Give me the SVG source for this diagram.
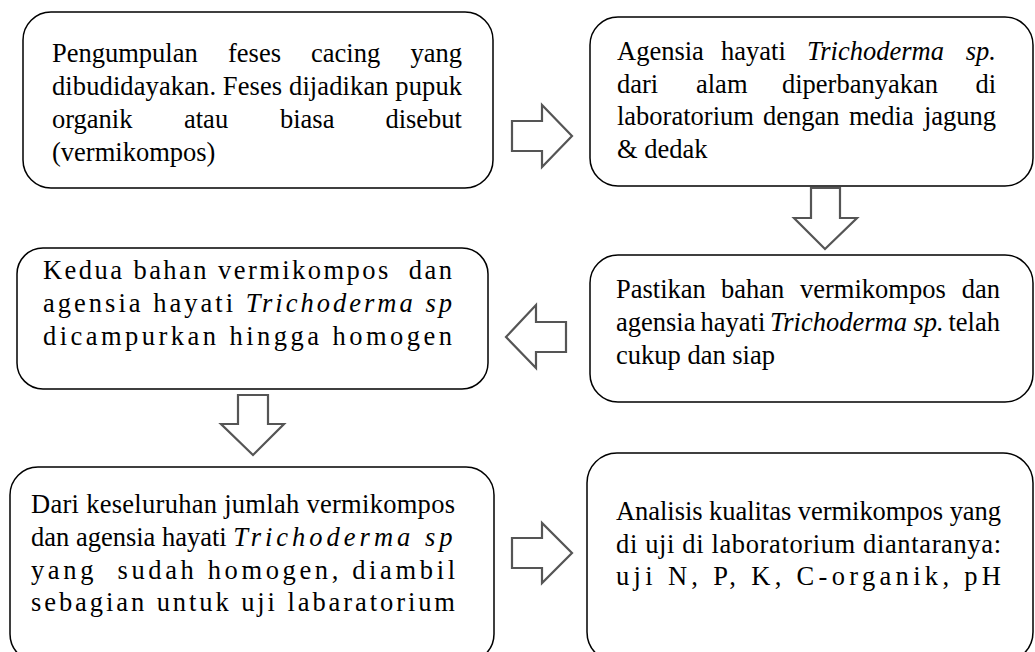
<svg xmlns="http://www.w3.org/2000/svg" width="1035" height="652" viewBox="0 0 1035 652">
<style>
.box{fill:#fff;stroke:#000;stroke-width:1.5}
.arr{fill:#fff;stroke:#555;stroke-width:2.2;stroke-linejoin:miter}
text{font-family:"Liberation Serif","Times New Roman",serif;font-size:26.5px;fill:#000}
.it{font-style:italic}
.pre{white-space:pre}
</style>
<rect width="1035" height="652" fill="#fff"/>
<g id="node1">
<rect class="box" x="23" y="12" width="470" height="176" rx="28"/>
<text y="62"><tspan x="52">Pengumpulan</tspan><tspan x="228">feses</tspan><tspan x="311">cacing</tspan><tspan x="462" text-anchor="end">yang</tspan></text>
<text x="52" y="95" textLength="410" lengthAdjust="spacing">dibudidayakan. Feses dijadikan pupuk</text>
<text y="128"><tspan x="52">organik</tspan><tspan x="184">atau</tspan><tspan x="280">biasa</tspan><tspan x="462" text-anchor="end">disebut</tspan></text>
<text x="52" y="161">(vermikompos)</text>
</g>
<g id="node2">
<rect class="box" x="590" y="17" width="443" height="169" rx="28"/>
<text y="60"><tspan x="617">Agensia</tspan><tspan x="721">hayati</tspan><tspan x="807" class="it">Trichoderma</tspan><tspan x="996" text-anchor="end" class="it">sp.</tspan></text>
<text y="92.5"><tspan x="617">dari</tspan><tspan x="696">alam</tspan><tspan x="782">diperbanyakan</tspan><tspan x="996" text-anchor="end">di</tspan></text>
<text y="125"><tspan x="617">laboratorium</tspan><tspan x="763">dengan</tspan><tspan x="849">media</tspan><tspan x="996" text-anchor="end">jagung</tspan></text>
<text x="617" y="157.5">&amp; dedak</text>
</g>
<g id="node3">
<rect class="box" x="590" y="255" width="443" height="147" rx="28"/>
<text y="298"><tspan x="616">Pastikan</tspan><tspan x="721">bahan</tspan><tspan x="800">vermikompos</tspan><tspan x="1000" text-anchor="end">dan</tspan></text>
<text y="331"><tspan x="616">agensia</tspan><tspan x="700.5">hayati</tspan><tspan x="770" class="it">Trichoderma sp.</tspan><tspan x="1000" text-anchor="end">telah</tspan></text>
<text x="616" y="364">cukup dan siap</text>
</g>
<g id="node4">
<rect class="box" x="17" y="248" width="471" height="141" rx="26"/>
<text x="43" y="279" class="pre" xml:space="preserve" textLength="409" lengthAdjust="spacing">Kedua bahan vermikompos  dan</text>
<text x="43" y="312" textLength="409" lengthAdjust="spacing">agensia hayati <tspan class="it">Trichoderma sp</tspan></text>
<text x="43" y="345" textLength="409" lengthAdjust="spacing">dicampurkan hingga homogen</text>
</g>
<g id="node5">
<rect class="box" x="10" y="467" width="484" height="195" rx="28"/>
<text x="31" y="513" textLength="424" lengthAdjust="spacing">Dari keseluruhan jumlah vermikompos</text>
<text x="31" y="546">dan agensia hayati <tspan class="it" letter-spacing="4">Trichoderma sp</tspan></text>
<text x="31" y="579" class="pre" xml:space="preserve" textLength="424" lengthAdjust="spacing">yang  sudah homogen, diambil</text>
<text x="31" y="611" textLength="424" lengthAdjust="spacing">sebagian untuk uji labaratorium</text>
</g>
<g id="node6">
<rect class="box" x="587" y="453" width="446" height="209" rx="30"/>
<text x="616" y="520" textLength="385" lengthAdjust="spacing">Analisis kualitas vermikompos yang</text>
<text x="616" y="553" textLength="385" lengthAdjust="spacing">di uji di laboratorium diantaranya:</text>
<text x="616" y="585" textLength="385" lengthAdjust="spacing">uji N, P, K, C-organik, pH</text>
</g>
<g id="connectors">
<polygon class="arr" points="512,121 542,121 542,105 572,136 542,167 542,151 512,151"/>
<polygon class="arr" points="811,188 840,188 840,218 857,218 825,249 794,218 811,218"/>
<polygon class="arr" points="566,322 536,322 536,305 506,337 536,368 536,352 566,352"/>
<polygon class="arr" points="238,395 268,395 268,424 284,424 253,455 221,424 238,424"/>
<polygon class="arr" points="512,538 542,538 542,523 572,553 542,583 542,568 512,568"/>
</g>
</svg>
